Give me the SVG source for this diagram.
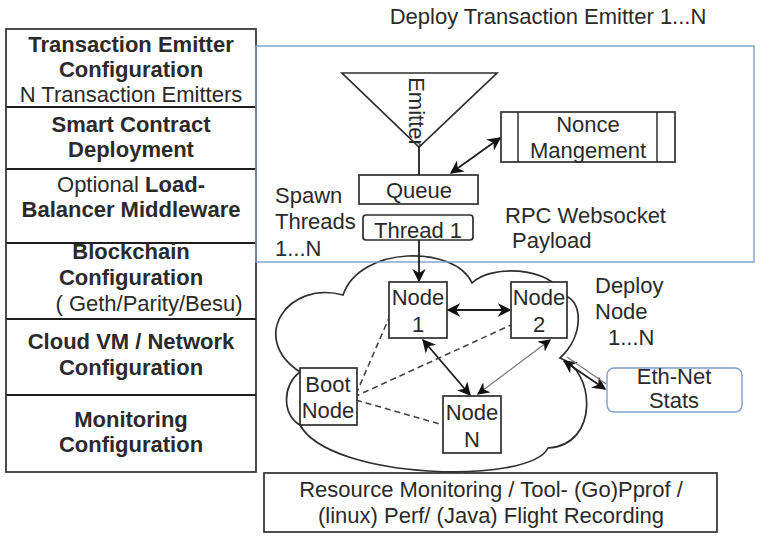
<svg xmlns="http://www.w3.org/2000/svg" width="775" height="547" viewBox="0 0 775 547">
<style>
  text { font-family: "Liberation Sans", Arial, sans-serif; font-size: 22px; fill: #2a2a2a; }
  .b { font-weight: bold; }
  .c { text-anchor: middle; }
  .box { fill: #ffffff; stroke: #2e2e2e; stroke-width: 1.7; }
  .blue { fill: none; stroke: #7f9fc9; stroke-width: 1.4; }
  .ln { fill: none; stroke: #1e1e1e; stroke-width: 1.8; }
  .gr { fill: none; stroke: #7a7a7a; stroke-width: 1.3; }
  .dash { fill: none; stroke: #444444; stroke-width: 1.6; stroke-dasharray: 6 4; }
</style>
<defs>
  <marker id="ah" viewBox="0 0 10 10" refX="9" refY="5" markerWidth="7.5" markerHeight="7.5" orient="auto-start-reverse" markerUnits="strokeWidth">
    <path d="M0,0 L10,5 L0,10 L3,5 z" fill="#111111"/>
  </marker>
  <marker id="ahg" viewBox="0 0 10 10" refX="9" refY="5" markerWidth="9.5" markerHeight="9.5" orient="auto-start-reverse" markerUnits="strokeWidth">
    <path d="M0,0 L10,5 L0,10 L3,5 z" fill="#111111"/>
  </marker>
</defs>
<rect width="775" height="547" fill="#ffffff"/>

<text class="c" x="548" y="24">Deploy Transaction Emitter 1...N</text>

<!-- Left column -->
<g id="config-stack">
  <rect class="box" x="6" y="29" width="250" height="443"/>
  <line class="ln" x1="6" y1="107" x2="256" y2="107"/>
  <line class="ln" x1="6" y1="169" x2="256" y2="169"/>
  <line class="ln" x1="6" y1="243" x2="256" y2="243"/>
  <line class="ln" x1="6" y1="319" x2="256" y2="319"/>
  <line class="ln" x1="6" y1="395" x2="256" y2="395"/>
</g>
<g id="tx-emitter-config">
  <text class="c b" x="131" y="52">Transaction Emitter</text>
  <text class="c b" x="131" y="77">Configuration</text>
  <text class="c" x="131" y="102">N Transaction Emitters</text>
</g>
<g id="smart-contract">
  <text class="c b" x="131" y="132">Smart Contract</text>
  <text class="c b" x="131" y="157">Deployment</text>
</g>
<g id="load-balancer">
  <text class="c" x="131" y="192">Optional <tspan class="b">Load-</tspan></text>
  <text class="c b" x="131" y="217">Balancer Middleware</text>
</g>
<g id="blockchain-config">
  <text class="c b" x="131" y="259">Blockchain</text>
  <text class="c b" x="131" y="285">Configuration</text>
  <text class="c" x="149" y="311">( Geth/Parity/Besu)</text>
</g>
<g id="cloud-config">
  <text class="c b" x="131" y="349">Cloud VM / Network</text>
  <text class="c b" x="131" y="375">Configuration</text>
</g>
<g id="monitoring-config">
  <text class="c b" x="131" y="427">Monitoring</text>
  <text class="c b" x="131" y="452">Configuration</text>
</g>

<!-- Cloud -->
<g id="cloud">
  <path class="box" d="M343,295 C288,280 248,338 300,372 C282,385 282,415 300,425 C330,480 530,485 548,448 C600,445 595,370 560,358 C585,335 582,300 565,296 C548,265 490,265 472,283 C455,245 360,245 343,295 Z"/>
</g>

<!-- Emitter frame -->
<g id="emitter-frame">
  <rect class="blue" x="256" y="46" width="498" height="216"/>
</g>

<g id="emitter">
  <path class="box" d="M342,73 L497,73 L419,147 Z"/>
  <text class="c" transform="translate(409,112) rotate(90)">Emitter</text>
</g>

<g id="nonce">
  <rect class="box" x="501" y="112" width="174" height="50"/>
  <line class="ln" x1="518" y1="112" x2="518" y2="162" style="stroke-width:1.4"/>
  <line class="ln" x1="657" y1="112" x2="657" y2="162" style="stroke-width:1.4"/>
  <text class="c" x="588" y="132">Nonce</text>
  <text class="c" x="588" y="158">Mangement</text>
</g>

<g id="queue">
  <rect class="box" x="359" y="175" width="119" height="29"/>
  <text class="c" x="419" y="198">Queue</text>
</g>

<g id="thread1">
  <rect class="box" x="363" y="215" width="110" height="25" rx="3"/>
  <text class="c" x="418" y="238">Thread 1</text>
</g>

<g id="spawn-label">
  <text x="275" y="203">Spawn</text>
  <text x="275" y="229">Threads</text>
  <text x="275" y="256">1...N</text>
</g>

<g id="rpc-label">
  <text x="505" y="223">RPC Websocket</text>
  <text x="512" y="248">Payload</text>
</g>

<g id="deploy-node-label">
  <text x="595" y="293">Deploy</text>
  <text x="595" y="319">Node</text>
  <text x="608" y="345">1...N</text>
</g>

<!-- Connectors -->
<g id="connectors">
  <line class="ln" x1="419" y1="147" x2="419" y2="175"/>
  <line class="ln" x1="451" y1="173" x2="500" y2="138" marker-start="url(#ah)" marker-end="url(#ah)"/>
  <line class="ln" x1="419" y1="240" x2="419" y2="281" marker-end="url(#ah)"/>
  <line class="ln" x1="448" y1="310" x2="510" y2="310" marker-start="url(#ah)" marker-end="url(#ah)"/>
  <line class="ln" x1="423" y1="340" x2="470" y2="395" marker-start="url(#ah)" marker-end="url(#ah)"/>
  <line class="gr" x1="550" y1="340" x2="478" y2="394" marker-start="url(#ahg)" marker-end="url(#ahg)"/>
  <line class="ln" x1="564" y1="361" x2="605" y2="389" marker-start="url(#ah)" marker-end="url(#ah)"/>
  <line class="gr" x1="567" y1="357" x2="606" y2="384"/>
  <line class="dash" x1="356" y1="394" x2="389" y2="318"/>
  <line class="dash" x1="354" y1="397" x2="511" y2="325"/>
  <line class="dash" x1="356" y1="400" x2="443" y2="425"/>
</g>

<!-- Nodes -->
<g id="node1">
  <rect class="box" x="389" y="282" width="58" height="56"/>
  <text class="c" x="418" y="305">Node</text>
  <text class="c" x="418" y="332">1</text>
</g>
<g id="node2">
  <rect class="box" x="511" y="282" width="56" height="56"/>
  <text class="c" x="539" y="305">Node</text>
  <text class="c" x="539" y="332">2</text>
</g>
<g id="bootnode">
  <rect class="box" x="300" y="368" width="57" height="57"/>
  <text class="c" x="328" y="392">Boot</text>
  <text class="c" x="328" y="418">Node</text>
</g>
<g id="nodeN">
  <rect class="box" x="443" y="396" width="58" height="57"/>
  <text class="c" x="472" y="420">Node</text>
  <text class="c" x="472" y="447">N</text>
</g>
<g id="ethnet">
  <rect x="607" y="368" width="135" height="44" rx="7" fill="#ffffff" stroke="#7f9fc9" stroke-width="1.4"/>
  <text class="c" x="674" y="384">Eth-Net</text>
  <text class="c" x="674" y="408">Stats</text>
</g>

<g id="resource-monitoring">
  <rect class="box" x="264" y="473" width="453" height="59"/>
  <text class="c" x="491" y="497">Resource Monitoring / Tool- (Go)Pprof /</text>
  <text class="c" x="491" y="523">(linux) Perf/ (Java) Flight Recording</text>
</g>
</svg>
